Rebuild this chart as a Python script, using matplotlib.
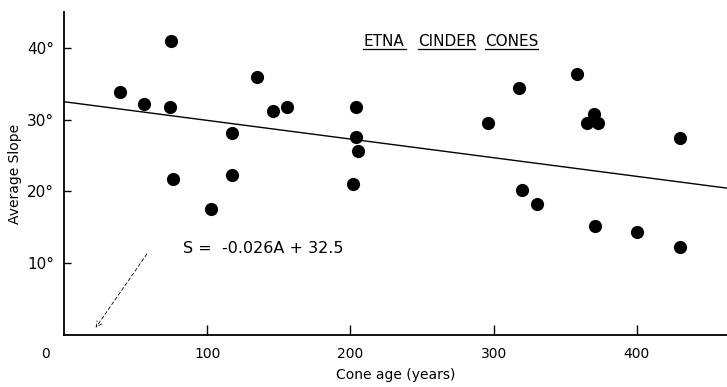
import matplotlib
matplotlib.use("Agg")
import matplotlib.pyplot as plt
import numpy as np

# cone age (years) and average slope (degrees)
cone_age = [39, 56, 75, 74, 117, 76, 117, 103, 135, 146, 156, 204, 204, 205, 202,
            296, 318, 358, 370, 365, 373, 430, 320, 330, 371, 400, 430]
avg_slope = [33.8, 32.2, 41.0, 31.8, 28.1, 21.8, 22.3, 17.6, 36.0, 31.2, 31.8,
             31.8, 27.6, 25.7, 21.1, 29.5, 34.4, 36.4, 30.8, 29.5, 29.5, 27.4,
             20.2, 18.3, 15.2, 14.3, 12.2]

fit_slope = -0.026
fit_intercept = 32.5

x_ticks = [100, 200, 300, 400]
y_ticks = [10, 20, 30, 40]
y_tick_labels = ["10°", "20°", "30°", "40°"]

title_words = ["ETNA", "CINDER", "CONES"]
title_x = [209, 247, 294]
title_ends = [238.5, 287, 331]

plt.rcParams['font.family'] = ['DejaVu Sans']

W, H = 727, 387
fig = plt.figure(figsize=(W / 100, H / 100), dpi=100)
ax = fig.add_axes([64 / W, (H - 335) / H, (W - 64) / W, (335 - 12) / H])

ax.scatter(cone_age, avg_slope, s=90, color="black", zorder=3, linewidths=0)

xs = np.array([0, 463])
ax.plot(xs, fit_intercept + fit_slope * xs, color="black", lw=1.0)

ax.set_xlim(0, 463)
ax.set_ylim(0, 45)

for side in ["top", "right"]:
    ax.spines[side].set_visible(False)
ax.spines["left"].set_linewidth(1.3)
ax.spines["bottom"].set_linewidth(1.3)

ax.set_xticks(x_ticks)
ax.set_xticklabels([str(v) for v in x_ticks], fontsize=10)
ax.set_yticks(y_ticks)
ax.set_yticklabels(y_tick_labels, fontsize=11)
ax.tick_params(axis="x", direction="in", length=7, width=1, pad=9)
ax.tick_params(axis="y", direction="in", length=5, width=1, pad=7)

ax.text(-13, -2.6, "0", fontsize=10, ha="center", va="center", clip_on=False)

ax.set_xlabel("Cone age (years)", fontsize=10, labelpad=5)
ax.set_ylabel("Average Slope", fontsize=10, labelpad=4)

# title, each word underlined
for word, x0, x1 in zip(title_words, title_x, title_ends):
    ax.text(x0, 40.9, word, fontsize=11, ha="left", va="center")
    ax.plot([x0, x1], [39.9, 39.9], color="black", lw=0.9)

ax.text(83, 12.0, "S =  -0.026A + 32.5", fontsize=11.5, ha="left", va="center")

ax.annotate("", xy=(21, 0.7), xytext=(59, 11.6),
            arrowprops=dict(arrowstyle="->", color="black", lw=0.6,
                            linestyle=(0, (4, 3))))

fig.savefig("out.png", dpi=100)
